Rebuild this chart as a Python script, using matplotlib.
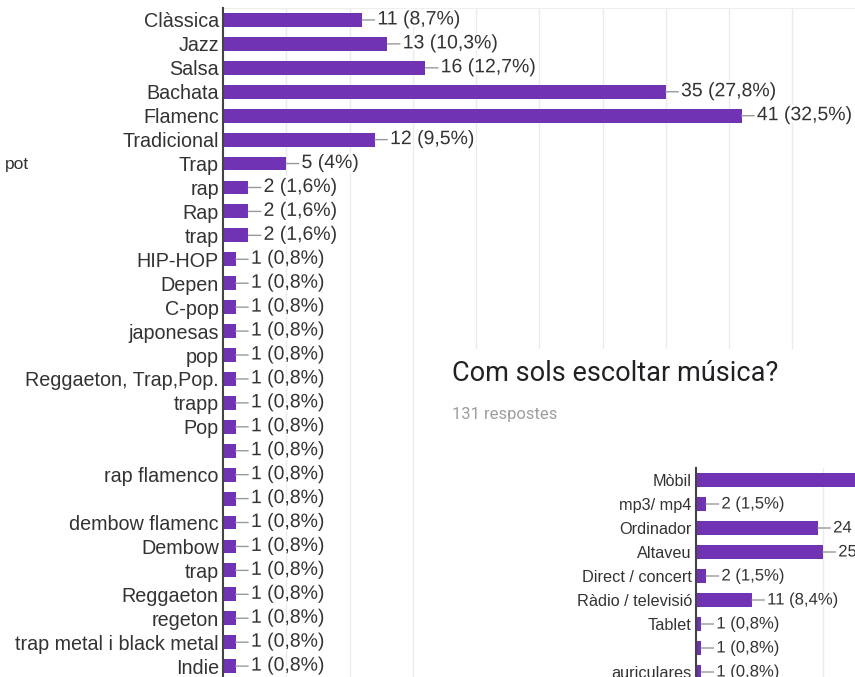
import matplotlib
matplotlib.use("Agg")
import matplotlib.pyplot as plt
import matplotlib.patheffects as pe
from matplotlib.patches import Rectangle
import numpy as np

plt.rcParams['font.family'] = ['Liberation Sans', 'DejaVu Sans']

# primer gràfic (estils de música)
genres = ["Clàssica", "Jazz", "Salsa", "Bachata", "Flamenc", "Tradicional", "Trap",
          "rap", "Rap", "trap", "HIP-HOP", "Depen", "C-pop", "japonesas", "pop",
          "Reggaeton, Trap,Pop.", "trapp", "Pop", " ", "rap flamenco", "  ",
          "dembow flamenc", "Dembow", "trap", "Reggaeton", "regeton",
          "trap metal i black metal", "Indie"]
genre_counts = [11, 13, 16, 35, 41, 12, 5, 2, 2, 2] + [1] * 18
genre_total = 126

# segon gràfic (com escoltes música)
devices = ["Mòbil", "mp3/ mp4", "Ordinador", "Altaveu", "Direct / concert",
           "Ràdio / televisió", "Tablet", " ", "auriculares"]
device_counts = [110, 2, 24, 25, 2, 11, 1, 1, 1]
device_total = 131

title2 = "Com sols escoltar música?"
sub2 = "131 respostes"

PURPLE = "#6f33b4"
TXT = "#333333"
W, H = 855, 677


def fmt(v, total):
    p = round(100 * v / total, 1)
    s = f"{p:.1f}".rstrip("0").rstrip(".").replace(".", ",")
    return f"{v} ({s}%)"


def px(x0, y0, x1, y1):
    return [x0 / W, 1 - y1 / H, (x1 - x0) / W, (y1 - y0) / H]


def bar_chart(ax, labels, vals, total, xmax, ymax, grid_step, fs_tick, fs_ann, bh, top_line):
    y = np.arange(len(labels))
    ax.barh(y, vals, height=bh, color=PURPLE, zorder=2)
    ax.set_xlim(0, xmax)
    ax.set_ylim(ymax, -0.5)
    ax.set_yticks(y)
    ax.set_yticklabels(labels, fontsize=fs_tick, color=TXT)
    ax.tick_params(axis="y", length=0, pad=3)
    ax.set_xticks(np.arange(grid_step, xmax, grid_step))
    ax.tick_params(axis="x", length=0, labelbottom=False)
    ax.grid(axis="x", color="#ebebeb", lw=1, zorder=0)
    for s in ["right", "bottom"]:
        ax.spines[s].set_visible(False)
    ax.spines["top"].set_visible(top_line)
    ax.spines["top"].set_color("#eeeeee")
    ax.spines["left"].set_color("#444444")
    ax.spines["left"].set_linewidth(1.5)
    ax.spines["left"].set_zorder(3)
    for yi, v in zip(y, vals):
        ax.annotate(fmt(v, total), xy=(v, yi), xytext=(11, 0), textcoords="offset points",
                    ha="left", va="center", fontsize=fs_ann, color=TXT, zorder=4,
                    path_effects=[pe.withStroke(linewidth=3, foreground="white")],
                    arrowprops=dict(arrowstyle="-", color="#999999", lw=1,
                                    shrinkA=0, shrinkB=0))


fig = plt.figure(figsize=(W / 100, H / 100), dpi=100)

ax1 = fig.add_axes(px(223, 8, 855, 677))
ax1.set_zorder(0)
bar_chart(ax1, genres, genre_counts, genre_total, (855 - 223) / 12.65,
          (677 - 20) / 23.93, 5, 14.2, 14, 0.58, True)

fig.text(5 / W, 1 - 164 / H, "pot", fontsize=12.5, color=TXT, va="center")

# panell blanc del segon gràfic
fig.patches.append(Rectangle((428 / W, 0), 1 - 428 / W, 1 - 349 / H,
                             transform=fig.transFigure, facecolor="white",
                             edgecolor="none", zorder=1))

fig.text(452 / W, 1 - 381 / H, title2, fontsize=19.5, color="#202124",
         family=["Roboto", "DejaVu Sans"], va="baseline", zorder=3)
fig.text(452 / W, 1 - 419 / H, sub2, fontsize=12, color="#9e9e9e",
         family=["Roboto", "DejaVu Sans"], va="baseline", zorder=3)

ax2 = fig.add_axes(px(696, 468, 855, 677))
ax2.set_zorder(2)
ax2.patch.set_alpha(0)
bar_chart(ax2, devices, device_counts, device_total, (855 - 696) / 5.08,
          (677 - 480) / 24, 25, 11.7, 12, 0.58, False)

fig.savefig("out.png", dpi=100)
